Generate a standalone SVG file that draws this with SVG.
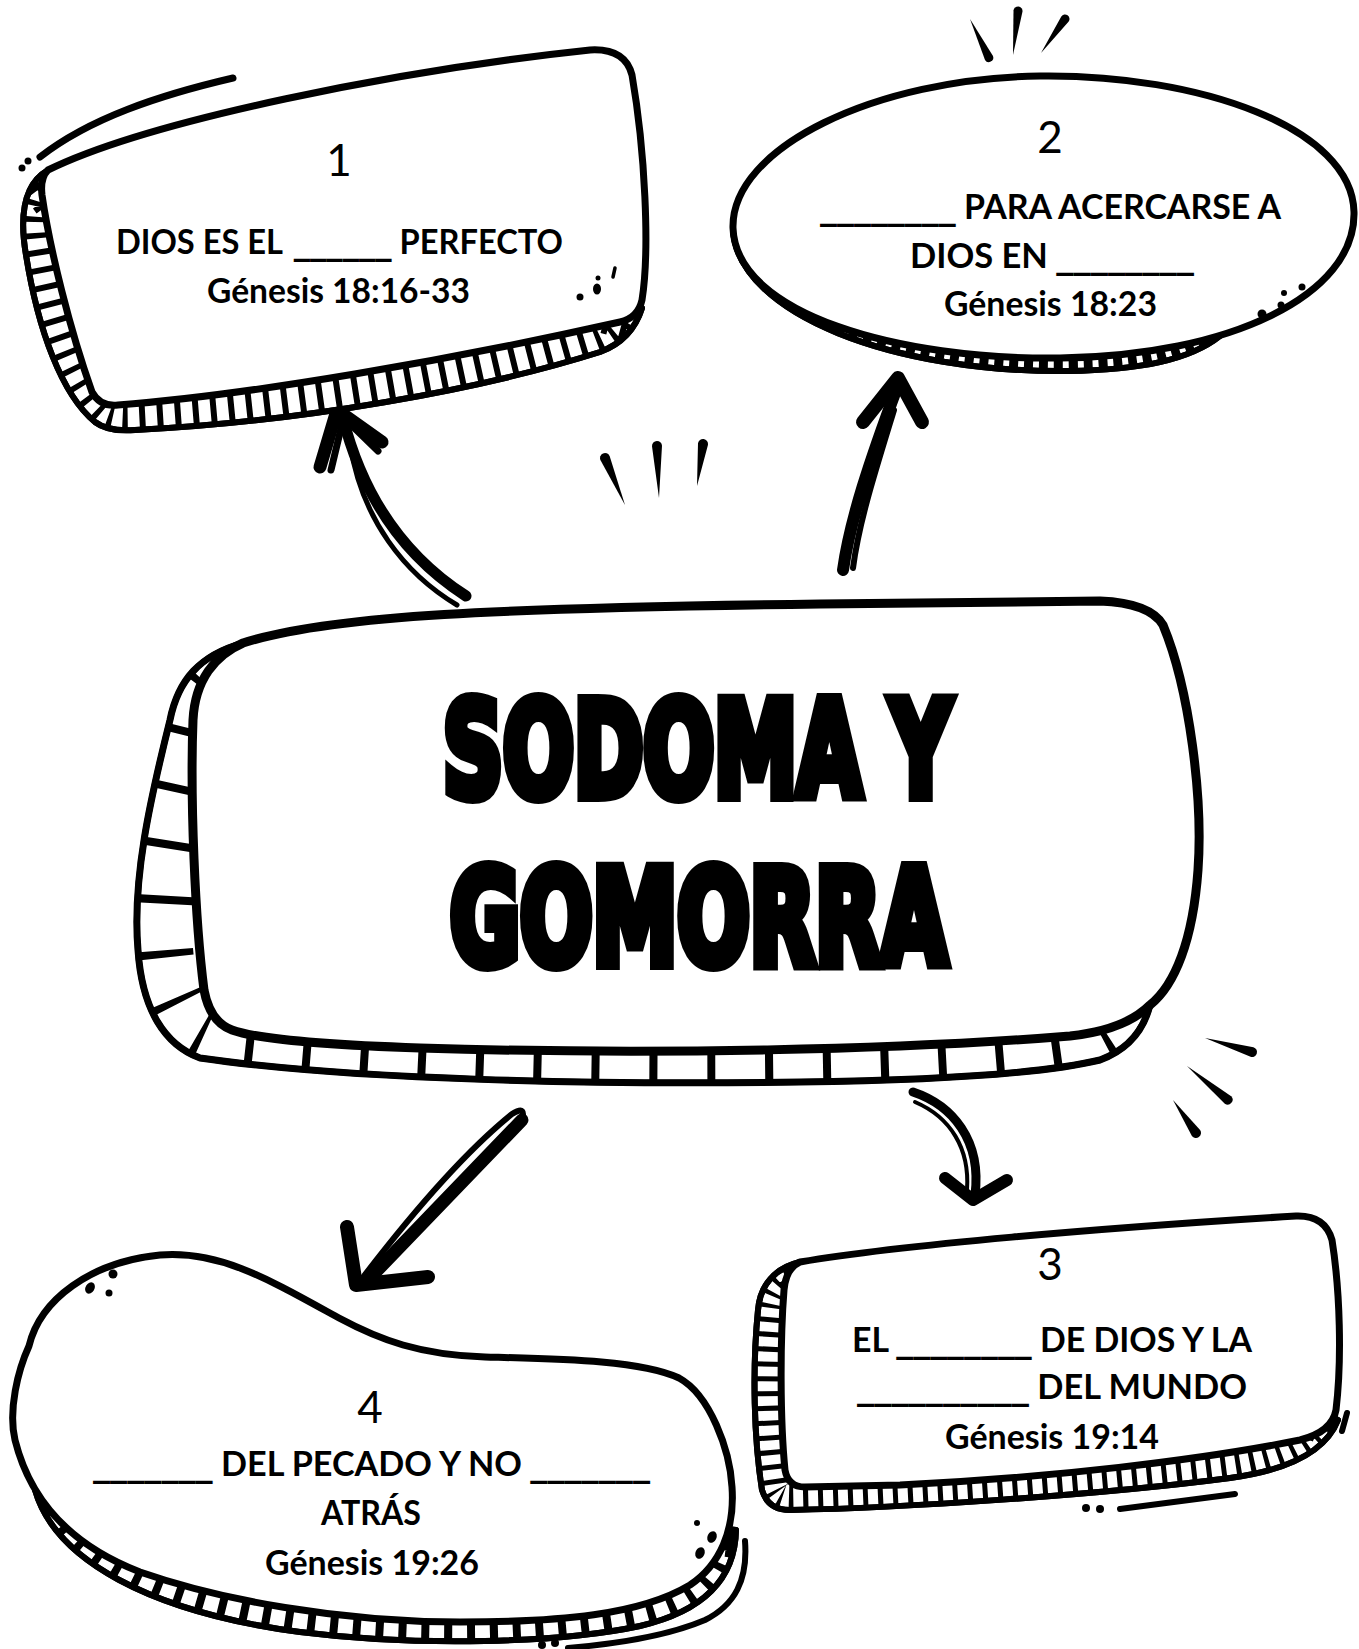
<svg xmlns="http://www.w3.org/2000/svg" xmlns:xlink="http://www.w3.org/1999/xlink" width="1359" height="1649" viewBox="0 0 1359 1649">
<style>
.main{fill:#fff;stroke:#000;stroke-width:7;stroke-linejoin:round}
.band{fill:#fff;stroke:#000;stroke-width:6;stroke-linejoin:round}
.tick{fill:none;stroke:#000}
.ink{fill:#000}
.ln{fill:none;stroke:#000;stroke-linecap:round;stroke-linejoin:round}
.t{font-family:Lato,'Open Sans','Liberation Sans',sans-serif;font-weight:bold;font-size:35px;fill:#000}
.u{font-family:'DejaVu Sans','Liberation Sans',sans-serif;font-weight:bold}
.n{font-family:Lato,'Open Sans','Liberation Sans',sans-serif;font-weight:normal;font-size:44px;fill:#000;text-anchor:middle}
.title{font-family:'DejaVu Sans','Liberation Sans',sans-serif;font-weight:bold;font-stretch:condensed;font-size:132px;fill:#000;stroke:#000;stroke-width:12;stroke-linejoin:miter}
</style>
<defs>
<path id="o1" d="M 48,170 C 22,185 20,220 26,255 C 38,330 62,395 95,422 Q 108,432 135,430 C 300,422 480,390 600,352 Q 632,340 642,308 L 540,280 L 130,350 L 85,220 Z"/>
<clipPath id="c1"><use xlink:href="#o1"/></clipPath>
<path id="o2" d="M 733,230 C 739,315 895,373 1068,371 C 1140,370 1190,360 1220,336 L 1100,290 L 800,245 Z"/>
<clipPath id="c2"><use xlink:href="#o2"/></clipPath>
<path id="oc" d="M 243,643 C 200,655 178,680 170,720 C 150,800 132,880 138,950 C 142,1010 165,1045 200,1058 C 350,1080 600,1085 800,1082 C 950,1080 1050,1072 1100,1060 Q 1140,1045 1150,1005 L 1050,950 L 300,950 L 280,700 Z"/>
<clipPath id="cc"><use xlink:href="#oc"/></clipPath>
<path id="o3" d="M 800,1262 C 775,1268 760,1285 758,1310 C 752,1370 754,1440 762,1490 Q 768,1510 790,1510 C 900,1508 1100,1495 1230,1478 Q 1320,1466 1338,1420 L 1250,1380 L 850,1420 L 840,1320 Z"/>
<clipPath id="c3"><use xlink:href="#o3"/></clipPath>
<path id="o4" d="M 35,1490 C 55,1560 150,1612 300,1632 C 420,1647 560,1643 640,1626 C 700,1612 735,1582 736,1530 L 650,1520 L 300,1560 L 100,1480 Z"/>
<clipPath id="c4"><use xlink:href="#o4"/></clipPath>
</defs>
<rect width="1359" height="1649" fill="#fff"/>

<g id="connectors">
  <g id="arrow-1">
    <path class="ln" stroke-width="11" d="M 466,596 C 410,560 365,505 343,418"/>
    <path class="ln" stroke-width="5" d="M 457,605 C 405,574 362,520 350,444"/>
    <path class="ln" stroke-width="13" d="M 320,467 L 337,410 L 382,442"/>
    <path class="ln" stroke-width="7" d="M 331,470 L 343,420 M 343,417 L 378,451"/>
  </g>
  <g id="arrow-2">
    <path class="ln" stroke-width="12" d="M 843,570 C 850,520 870,460 898,385"/>
    <path class="ln" stroke-width="6" d="M 853,568 C 859,522 875,472 894,410"/>
    <path class="ln" stroke-width="14" d="M 863,422 L 898,378 L 922,422"/>
  </g>
  <g id="arrow-3">
    <path class="ln" stroke-width="13" d="M 522,1120 L 366,1282"/>
    <path class="ln" stroke-width="6" d="M 364,1276 C 420,1203 470,1148 512,1114 Q 528,1104 521,1123"/>
    <path class="ln" stroke-width="14" d="M 347,1227 L 356,1285 L 428,1277"/>
  </g>
  <g id="arrow-4">
    <path class="ln" stroke-width="9" d="M 913,1092 C 952,1105 982,1140 975,1195"/>
    <path class="ln" stroke-width="4" d="M 915,1102 C 950,1117 970,1148 967,1190"/>
    <path class="ln" stroke-width="12" d="M 945,1178 L 973,1200 L 1007,1180"/>
  </g>
</g>

<g id="decor">
  <path class="ink" d="M600.4,460 L625,505 L609.6,456 A5,5 0 0 0 600.4,460Z"/>
  <path class="ink" d="M652,446.2 L659,498 L662,445.8 A5,5 0 0 0 652,446.2Z"/>
  <path class="ink" d="M698,443.3 L697,486 L708,444.7 A5,5 0 0 0 698,443.3Z"/>
  <path class="ink" d="M993,56 L970,19 L985,60 A4.5,4.5 0 0 0 993,56Z"/>
  <path class="ink" d="M1013.5,10.5 L1013,55 L1022.5,11.5 A4.5,4.5 0 0 0 1013.5,10.5Z"/>
  <path class="ink" d="M1061.3,16.4 L1041,53 L1068.7,21.6 A4.5,4.5 0 0 0 1061.3,16.4Z"/>
  <path class="ink" d="M1253.4,1047.2 L1205,1038 L1250.6,1056.8 A5,5 0 0 0 1253.4,1047.2Z"/>
  <path class="ink" d="M1231.2,1096.2 L1187,1066 L1224.8,1103.8 A5,5 0 0 0 1231.2,1096.2Z"/>
  <path class="ink" d="M1200.1,1130.1 L1173,1100 L1191.9,1135.9 A5,5 0 0 0 1200.1,1130.1Z"/>
</g>

<g id="node-1">
  <use xlink:href="#o1" class="band"/>
  <use xlink:href="#o1" class="tick" stroke-width="70" stroke-dasharray="6 12" clip-path="url(#c1)"/>
  <use xlink:href="#o1" class="band" style="fill:none"/>
  <path class="main" d="M 48,170 C 150,120 400,70 590,50 Q 625,48 632,75 C 645,150 650,250 642,300 Q 638,318 620,322 C 450,360 250,395 118,405 Q 100,407 92,392 C 70,330 50,250 42,195 Q 40,178 48,170 Z"/>
  <path class="ln" stroke-width="7" d="M 40,157 C 90,118 160,95 233,78"/>
  <circle class="ink" cx="22" cy="168" r="3.5"/>
  <circle class="ink" cx="28" cy="161" r="3.5"/>
  <circle class="ink" cx="580" cy="297" r="3.5"/>
  <ellipse class="ink" cx="597" cy="289" rx="4" ry="5.5"/>
  <path class="ln" stroke-width="3.5" d="M 615,268 L 613,277"/>
  <circle class="ink" cx="598" cy="278" r="2.5"/>
  <text class="n" x="339" y="176">1</text>
  <text class="t" x="116" y="254" textLength="447" lengthAdjust="spacingAndGlyphs">DIOS ES EL <tspan class="u" dx="4">______</tspan> PERFECTO</text>
  <text class="t" x="207" y="303" textLength="263" lengthAdjust="spacingAndGlyphs">Génesis 18:16-33</text>
</g>

<g id="node-2">
  <use xlink:href="#o2" class="band"/>
  <use xlink:href="#o2" class="tick" stroke-width="40" stroke-dasharray="9 6" clip-path="url(#c2)"/>
  <use xlink:href="#o2" class="band" style="fill:none"/>
  <path class="main" d="M 733,228 C 731,148 875,78 1040,76 C 1200,74 1352,128 1354,212 C 1356,295 1230,356 1060,358 C 900,360 736,315 733,228 Z"/>
  <circle class="ink" cx="1262" cy="314" r="4.5"/>
  <circle class="ink" cx="1281" cy="305" r="3.5"/>
  <circle class="ink" cx="1284" cy="293" r="3"/>
  <circle class="ink" cx="1302" cy="287" r="3.5"/>
  <text class="n" x="1050" y="153">2</text>
  <text class="t" x="820" y="219" textLength="461" lengthAdjust="spacingAndGlyphs"><tspan class="u">________</tspan> PARA ACERCARSE A</text>
  <text class="t" x="910" y="268" textLength="284" lengthAdjust="spacingAndGlyphs">DIOS EN <tspan class="u">________</tspan></text>
  <text class="t" x="944" y="316" textLength="213" lengthAdjust="spacingAndGlyphs">Génesis 18:23</text>
</g>

<g id="node-center">
  <use xlink:href="#oc" class="band"/>
  <use xlink:href="#oc" class="tick" stroke-width="110" stroke-dasharray="8 50" clip-path="url(#cc)"/>
  <use xlink:href="#oc" class="band" style="fill:none;stroke-width:7"/>
  <path class="main" style="stroke-width:9" d="M 243,643 C 330,615 500,608 820,604 L 1100,601 Q 1150,603 1163,625 C 1190,690 1203,800 1198,870 C 1193,940 1175,985 1150,1005 Q 1125,1030 1070,1036 C 900,1050 650,1055 420,1048 C 330,1045 260,1040 232,1030 Q 210,1022 204,990 C 195,920 190,800 193,720 C 195,680 215,655 243,643 Z"/>
  <text class="title" x="443" y="796" textLength="508" lengthAdjust="spacingAndGlyphs">SODOMA Y</text>
  <text class="title" x="450" y="964" textLength="497" lengthAdjust="spacingAndGlyphs">GOMORRA</text>
</g>

<g id="node-3">
  <use xlink:href="#o3" class="band"/>
  <use xlink:href="#o3" class="tick" stroke-width="60" stroke-dasharray="5 10" clip-path="url(#c3)"/>
  <use xlink:href="#o3" class="band" style="fill:none"/>
  <path class="main" d="M 800,1262 C 900,1245 1100,1228 1296,1216 Q 1325,1215 1332,1240 C 1340,1290 1342,1360 1336,1410 Q 1332,1432 1300,1440 C 1200,1460 1050,1478 900,1485 L 805,1487 Q 788,1487 785,1470 C 780,1420 780,1340 784,1290 Q 786,1268 800,1262 Z"/>
  <circle class="ink" cx="1086" cy="1508" r="4"/>
  <circle class="ink" cx="1100" cy="1509" r="4"/>
  <path class="ln" stroke-width="6" d="M 1120,1509 L 1235,1494"/>
  <path class="ln" stroke-width="6" d="M 1347,1413 L 1342,1431"/>
  <text class="n" x="1050" y="1280">3</text>
  <text class="t" x="852" y="1352" textLength="400" lengthAdjust="spacingAndGlyphs">EL <tspan class="u">________</tspan> DE DIOS Y LA</text>
  <text class="t" x="857" y="1399" textLength="390" lengthAdjust="spacingAndGlyphs"><tspan class="u">__________</tspan> DEL MUNDO</text>
  <text class="t" x="945" y="1449" textLength="214" lengthAdjust="spacingAndGlyphs">Génesis 19:14</text>
</g>

<g id="node-4">
  <use xlink:href="#o4" class="band"/>
  <use xlink:href="#o4" class="tick" stroke-width="56" stroke-dasharray="8 15" clip-path="url(#c4)"/>
  <use xlink:href="#o4" class="band" style="fill:none"/>
  <path class="main" d="M 29,1346 C 40,1300 90,1262 160,1255 C 220,1250 270,1280 339,1318 C 380,1340 420,1355 485,1357 C 560,1359 640,1360 679,1378 C 710,1395 730,1450 732,1487 C 735,1530 720,1565 690,1585 C 640,1615 560,1622 460,1622 C 340,1622 220,1600 140,1572 C 70,1545 30,1500 15,1440 C 8,1410 18,1370 29,1346 Z"/>
  <path class="ln" stroke-width="6" d="M 745,1541 C 748,1580 735,1605 705,1620 C 665,1637 615,1644 568,1648"/>
  <circle class="ink" cx="542" cy="1645" r="4"/>
  <circle class="ink" cx="555" cy="1643" r="4"/>
  <ellipse class="ink" cx="90" cy="1288" rx="4.5" ry="6" transform="rotate(30 90 1288)"/>
  <circle class="ink" cx="113" cy="1274" r="4.5"/>
  <circle class="ink" cx="109" cy="1293" r="3.5"/>
  <circle class="ink" cx="697" cy="1523" r="3"/>
  <ellipse class="ink" cx="712" cy="1537" rx="4.5" ry="6" transform="rotate(25 712 1537)"/>
  <ellipse class="ink" cx="700" cy="1553" rx="4.5" ry="6" transform="rotate(25 700 1553)"/>
  <text class="n" x="370" y="1423">4</text>
  <text class="t" x="93" y="1476" textLength="557" lengthAdjust="spacingAndGlyphs"><tspan class="u">_______</tspan> DEL PECADO Y NO <tspan class="u">_______</tspan></text>
  <text class="t" x="321" y="1525" textLength="100" lengthAdjust="spacingAndGlyphs">ATRÁS</text>
  <text class="t" x="265" y="1575" textLength="214" lengthAdjust="spacingAndGlyphs">Génesis 19:26</text>
</g>
</svg>
